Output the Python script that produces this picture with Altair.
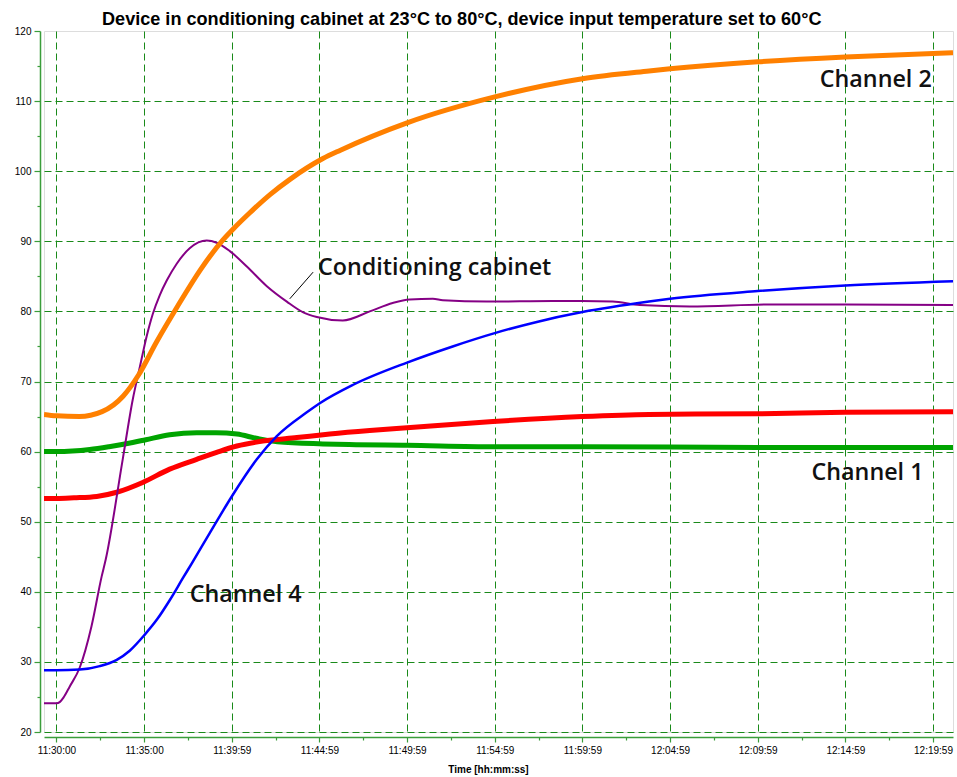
import altair as alt
import pandas as pd

# Time is measured in minutes after 11:30:00
x_tick_labels = ["11:30:00", "11:35:00", "11:39:59", "11:44:59", "11:49:59", "11:54:59",
                 "11:59:59", "12:04:59", "12:09:59", "12:14:59", "12:19:59"]
x_ticks = [i * 2.5 for i in range(2 * len(x_tick_labels) - 1)]
y_ticks = list(range(20, 125, 5))

# Channel 2 (orange)
ch2_t = [-0.71, 0.0, 1.3, 2.6, 3.8, 4.7, 5.7, 6.9, 8.2, 9.5, 10.1, 11.0, 12.2, 13.3,
         15.2, 16.2, 20.0, 25.0, 30.0, 33.8, 35.0, 40.0, 45.0, 50.0, 51.14]
ch2_v = [65.3, 65.1, 65.0, 65.7, 67.9, 71.0, 75.6, 80.7, 85.9, 90.2, 91.8, 94.0, 96.7, 98.8,
         101.8, 103.0, 106.9, 110.6, 113.2, 114.3, 114.6, 115.6, 116.3, 116.8, 116.9]

# Conditioning cabinet (purple)
cab_t = [-0.71, 0.0, 0.2, 0.4, 0.76, 1.33, 2.0, 2.58, 2.81, 3.78, 4.35, 4.75, 5.15, 5.49,
         5.89, 6.29, 6.86, 7.6, 8.57, 9.14, 9.89, 10.86, 12.0, 13.14, 14.05, 14.85, 16.33,
         17.87, 19.18, 20.15, 21.47, 22.04, 24.55, 28.31, 29.97, 31.73, 33.27, 36.13, 40.86,
         45.0, 51.14]
cab_v = [24.1, 24.1, 24.3, 24.9, 26.5, 29.2, 35.1, 42.2, 44.6, 58.9, 67.4, 72.0, 76.5, 79.6,
         82.3, 84.4, 86.8, 89.0, 90.1, 89.8, 88.6, 86.4, 83.6, 81.4, 79.9, 79.2, 78.7,
         80.0, 81.2, 81.7, 81.8, 81.6, 81.4, 81.5, 81.5, 81.4, 80.9, 80.7, 81.0,
         81.0, 80.9]

# Channel 4 (blue)
ch4_t = [-0.71, 0.0, 1.33, 2.47, 3.44, 4.18, 5.04, 5.72, 6.46, 7.2, 7.73, 8.75, 10.0, 11.43,
         12.57, 14.28, 15.02, 16.9, 20.0, 22.6, 25.0, 27.4, 30.0, 33.8, 35.0, 40.0, 45.0, 51.14]
ch4_v = [28.8, 28.8, 28.9, 29.4, 30.3, 31.6, 33.9, 36.0, 38.8, 41.9, 44.1, 48.4, 53.6, 58.9,
         62.2, 65.6, 66.9, 69.5, 72.7, 75.0, 76.9, 78.5, 79.9, 81.4, 81.8, 82.9, 83.7, 84.3]

# Channel 3 (red)
ch3_t = [-0.71, 0.0, 1.0, 2.3, 3.44, 4.92, 6.46, 8.0, 9.14, 10.29, 11.77, 13.71, 15.59,
         17.87, 20.0, 24.9, 30.0, 33.8, 40.0, 45.0, 51.14]
ch3_v = [53.3, 53.3, 53.4, 53.6, 54.2, 55.6, 57.5, 58.9, 59.9, 60.8, 61.5, 62.0, 62.5,
         63.0, 63.4, 64.3, 65.0, 65.3, 65.4, 65.6, 65.7]

# Channel 1 (green)
ch1_t = [-0.71, 0.0, 1.9, 3.0, 4.35, 5.1, 6.46, 8.0, 9.1, 10.3, 11.4, 12.6, 15.2, 16.7,
         20.0, 25.0, 30.0, 40.0, 51.14]
ch1_v = [60.0, 60.0, 60.3, 60.7, 61.3, 61.7, 62.4, 62.7, 62.7, 62.5, 61.9, 61.4, 61.1, 61.0,
         60.9, 60.7, 60.7, 60.6, 60.6]

# In-plot labels (left edge / baseline in data units)
label_text = ["Channel 2", "Conditioning cabinet", "Channel 1", "Channel 4"]
label_t = [43.54, 14.92, 43.07, 7.6]
label_v = [112.0, 85.2, 56.0, 38.6]

# Leader line for the cabinet label
leader_t = [13.31]
leader_v = [81.8]
leader_t2 = [14.64]
leader_v2 = [85.6]

GRID = "#1a8a1a"
AXIS = "#3a9d3a"

label_array = "[" + ",".join("'" + s + "'" for s in x_tick_labels) + "]"

X = alt.X(
    "t:Q",
    scale=alt.Scale(domain=[-0.71, 51.14], nice=False, zero=False),
    axis=alt.Axis(
        values=x_ticks,
        labelExpr=f"datum.value % 5 === 0 ? {label_array}[round(datum.value / 5)] : ''",
        title="Time [hh:mm:ss]",
        titleFont="Liberation Sans", titleFontSize=10, titleFontWeight="bold",
        titleColor="black", titleX=444, titleY=32, titleBaseline="middle",
        labelFont="Liberation Sans", labelFontSize=10, labelColor="black",
        labelPadding=3, labelFlush=False, labelOverlap=False,
        offset=5, domainColor=AXIS, domainWidth=1.5,
        tickColor=AXIS, tickWidth=1.2,
        tickSize={"condition": {"test": "datum.value % 5 === 0", "value": 5}, "value": 3},
        grid=True, gridColor=GRID, gridDash=[7, 4], gridWidth=1,
        gridOpacity={"condition": {"test": "datum.value % 5 === 0", "value": 1}, "value": 0},
    ),
)

Y = alt.Y(
    "v:Q",
    scale=alt.Scale(domain=[20, 120], nice=False, zero=False),
    axis=alt.Axis(
        values=y_ticks,
        labelExpr="datum.value % 10 === 0 ? datum.label : ''",
        title=None,
        labelFont="Liberation Sans", labelFontSize=10, labelColor="black",
        labelPadding=3, labelFlush=False, labelOverlap=False,
        offset=4, domainColor=AXIS, domainWidth=1.5,
        tickColor=AXIS, tickWidth=1.2,
        tickSize={"condition": {"test": "datum.value % 10 === 0", "value": 6}, "value": 3},
        grid=True, gridColor=GRID, gridDash=[7, 4], gridWidth=1,
        gridOpacity={"condition": {"test": "datum.value % 10 === 0 && datum.value < 120",
                                   "value": 1}, "value": 0},
    ),
)


def series(t, v, color, width):
    df = pd.DataFrame({"t": t, "v": v})
    return alt.Chart(df).mark_line(
        color=color, strokeWidth=width, interpolate="monotone", clip=True
    ).encode(x=X, y=Y)


labels_df = pd.DataFrame({"t": label_t, "v": label_v, "label": label_text})
leader_df = pd.DataFrame({"t": leader_t, "v": leader_v, "t2": leader_t2, "v2": leader_v2})

texts = alt.Chart(labels_df).mark_text(
    align="left", baseline="alphabetic", font="Open Sans", fontSize=23.3,
    fontWeight=600, color="#111111"
).encode(x=X, y=Y, text="label:N")

leader = alt.Chart(leader_df).mark_rule(color="black", strokeWidth=1).encode(
    x=X, y=Y, x2="t2:Q", y2="v2:Q"
)

chart = alt.layer(
    series(ch1_t, ch1_v, "#00A400", 5),
    series(ch3_t, ch3_v, "#FF0000", 5),
    series(cab_t, cab_v, "#850085", 2),
    series(ch2_t, ch2_v, "#FF8000", 5),
    series(ch4_t, ch4_v, "#0000FF", 2.5),
    leader,
    texts,
).properties(
    width=909,
    height=701,
    autosize=alt.AutoSizeParams(type="none"),
    padding={"left": 44, "top": 31, "right": 4, "bottom": 45},
    title=alt.TitleParams(
        text="Device in conditioning cabinet at 23°C to 80°C, device input temperature set to 60°C",
        font="Liberation Sans", fontSize=18.1, fontWeight="bold", color="black",
        anchor="start", dx=58, dy=7, offset=4, frame="group",
    ),
).configure_view(stroke="transparent").configure(background="white")

chart.save("out.html", embed_options={"renderer": "svg", "actions": False})
